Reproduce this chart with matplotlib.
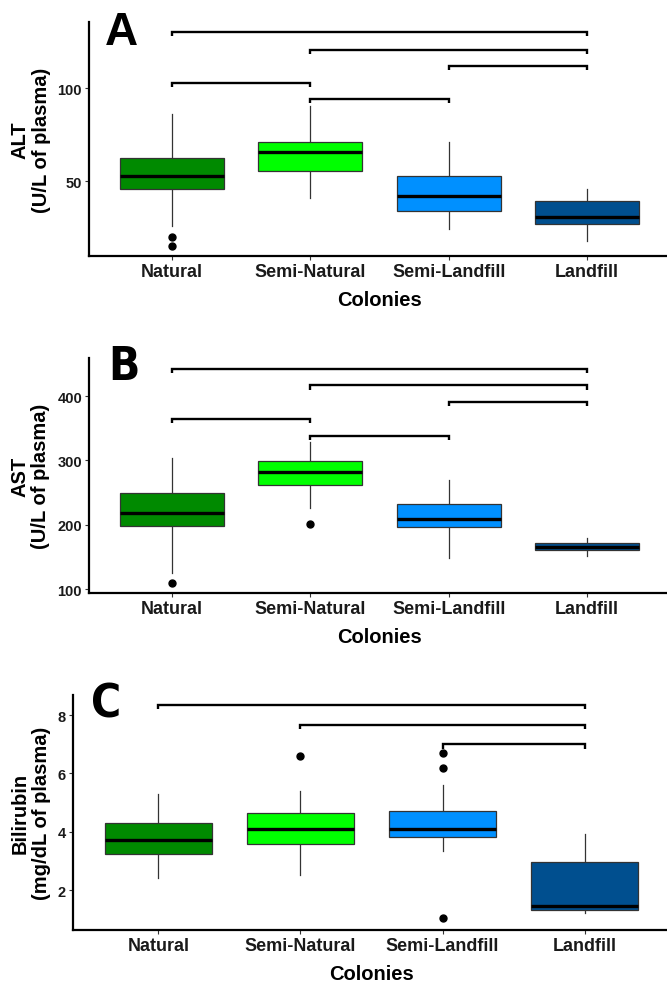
import matplotlib
matplotlib.use("Agg")
import matplotlib.pyplot as plt
from matplotlib import font_manager

# ---------------- data ----------------
colonies = ["Natural", "Semi-Natural", "Semi-Landfill", "Landfill"]
box_colors = ["#008A00", "#00FF00", "#0090FF", "#004F8F"]

# ALT (U/L of plasma)
alt_whislo = [26.1, 41.0, 24.2, 17.9]
alt_q1 = [46.0, 55.4, 33.9, 26.9]
alt_med = [53.0, 65.6, 42.1, 31.0]
alt_q3 = [62.5, 71.3, 52.7, 39.2]
alt_whishi = [86.2, 90.3, 71.0, 45.9]
alt_fliers = [[19.9, 15.1], [], [], []]
alt_ticks = [50, 100]
alt_pairs = [(1, 4), (2, 4), (3, 4), (1, 2), (2, 3)]
alt_bracket_y = [130.1, 120.8, 111.8, 102.8, 94.2]

# AST (U/L of plasma)
ast_whislo = [124.8, 225.5, 148.6, 151.7]
ast_q1 = [198.0, 262.3, 196.0, 160.6]
ast_med = [218.7, 281.6, 208.4, 165.3]
ast_q3 = [248.9, 299.7, 232.2, 171.5]
ast_whishi = [303.3, 328.3, 269.2, 178.8]
ast_fliers = [[109.2], [201.6], [], []]
ast_ticks = [100, 200, 300, 400]
ast_pairs = [(1, 4), (2, 4), (3, 4), (1, 2), (2, 3)]
ast_bracket_y = [442.6, 416.5, 390.7, 364.6, 337.7]

# Bilirubin (mg/dL of plasma)
bil_whislo = [2.41, 2.51, 3.33, 1.23]
bil_q1 = [3.24, 3.59, 3.81, 1.31]
bil_med = [3.71, 4.10, 4.10, 1.47]
bil_q3 = [4.31, 4.63, 4.70, 2.97]
bil_whishi = [5.29, 5.41, 5.60, 3.91]
bil_fliers = [[], [6.6], [6.70, 6.20, 1.03], []]
bil_ticks = [2, 4, 6, 8]
bil_pairs = [(1, 4), (2, 4), (3, 4)]
bil_bracket_y = [8.35, 7.66, 7.00]

# ---------------- fonts ----------------
names = {f.name for f in font_manager.fontManager.ttflist}
MAIN = "Liberation Sans" if "Liberation Sans" in names else "DejaVu Sans"
plt.rcParams["font.family"] = [MAIN, "DejaVu Sans"]

# condensed face for the panel letters B and C, if one exists
cond_fp = None
for f in font_manager.fontManager.ttflist:
    if ("Narrow" in f.name or "Condensed" in f.fname) and f.weight in (700, "bold"):
        cond_fp = font_manager.FontProperties(fname=f.fname)
        break

W, H = 667, 987
fig = plt.figure(figsize=(W / 100, H / 100), dpi=100)


def px_axes(left, top, bottom, right=670):
    return fig.add_axes([left / W, 1 - bottom / H, (right - left) / W, (bottom - top) / H])


panels = [
    dict(rect=(89, 23, 257), ylim=(9.8, 135.6), ylabel="ALT\n(U/L of plasma)",
         stats=(alt_whislo, alt_q1, alt_med, alt_q3, alt_whishi, alt_fliers),
         ticks=alt_ticks, pairs=alt_pairs, by=alt_bracket_y,
         letter="A", letter_xy=(105, 45), condensed=False),
    dict(rect=(89, 359, 594), ylim=(93.8, 459.2), ylabel="AST\n(U/L of plasma)",
         stats=(ast_whislo, ast_q1, ast_med, ast_q3, ast_whishi, ast_fliers),
         ticks=ast_ticks, pairs=ast_pairs, by=ast_bracket_y,
         letter="B", letter_xy=(108, 380), condensed=True),
    dict(rect=(73, 696, 931), ylim=(0.63, 8.69), ylabel="Bilirubin\n(mg/dL of plasma)",
         stats=(bil_whislo, bil_q1, bil_med, bil_q3, bil_whishi, bil_fliers),
         ticks=bil_ticks, pairs=bil_pairs, by=bil_bracket_y,
         letter="C", letter_xy=(91, 717), condensed=True),
]

for p in panels:
    ax = px_axes(*p["rect"])
    wlo, q1, med, q3, whi, fl = p["stats"]
    stats = []
    for i in range(len(colonies)):
        stats.append(dict(med=med[i], q1=q1[i], q3=q3[i], whislo=wlo[i], whishi=whi[i],
                          fliers=fl[i], label=colonies[i]))
    bp = ax.bxp(stats, positions=range(1, len(colonies) + 1), widths=0.75,
                patch_artist=True, showcaps=False,
                boxprops=dict(edgecolor="#333333", linewidth=0.9),
                medianprops=dict(color="black", linewidth=2.4, solid_capstyle="butt"),
                whiskerprops=dict(color="#333333", linewidth=0.9),
                flierprops=dict(marker="o", markerfacecolor="black", markeredgecolor="black",
                                markersize=5, linestyle="none"))
    for patch, c in zip(bp["boxes"], box_colors):
        patch.set_facecolor(c)
    for w in bp["whiskers"]:
        w.set_zorder(1)

    ax.set_xlim(0.4, 4.6)
    ax.set_ylim(*p["ylim"])
    ax.set_yticks(p["ticks"])
    ax.set_xticks(range(1, len(colonies) + 1))
    ax.set_xticklabels(colonies, fontsize=13, fontweight="bold")
    for t in ax.get_yticklabels():
        t.set_fontsize(10.5)
        t.set_fontweight("bold")
    ax.tick_params(axis="both", length=3, width=0.8, color="#333333", labelcolor="#1a1a1a")
    ax.tick_params(axis="x", pad=2)
    ax.tick_params(axis="y", pad=2)
    for s in ["top", "right"]:
        ax.spines[s].set_visible(False)
    for s in ["left", "bottom"]:
        ax.spines[s].set_linewidth(1.6)
        ax.spines[s].set_color("black")
    ax.set_xlabel("Colonies", fontsize=14.5, fontweight="bold", labelpad=7)
    ax.set_ylabel(p["ylabel"], fontsize=14.5, fontweight="bold", labelpad=5, linespacing=1.15)
    ax.patch.set_visible(False)

    # significance brackets
    lo, hi = p["ylim"]
    tip = 0.018 * (hi - lo)
    for (a, b), y in zip(p["pairs"], p["by"]):
        ax.plot([a, a, b, b], [y - tip, y, y, y - tip], color="black", lw=1.7,
                solid_capstyle="butt", solid_joinstyle="miter", clip_on=False)

    lx, ly = p["letter_xy"]
    kw = dict(fontsize=33, fontweight="bold", va="baseline", ha="left")
    if p["condensed"] and cond_fp is not None:
        kw = dict(fontproperties=cond_fp, va="baseline", ha="left")
        t = fig.text(lx / W, 1 - ly / H, p["letter"], **kw)
        t.set_fontsize(33)
    else:
        fig.text(lx / W, 1 - ly / H, p["letter"], **kw)

fig.savefig("out.png", dpi=100)
